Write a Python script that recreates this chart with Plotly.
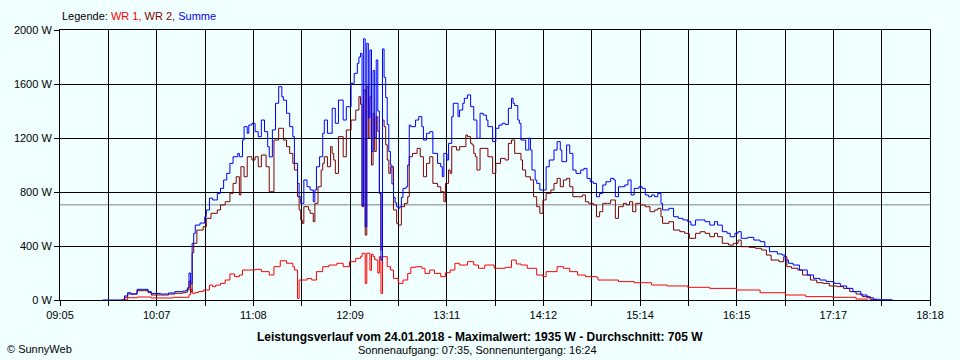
import plotly.graph_objects as go

# ---------------- data ----------------
x_tick_labels = ["09:05", "10:07", "11:08", "12:09", "13:11", "14:12",
                 "15:14", "16:15", "17:17", "18:18"]
y_tick_values = [0, 400, 800, 1200, 1600, 2000]
average_w = 705
max_w = 1935

sum_time = ["09:32","09:44","09:46","09:48","09:50","09:52","09:54","09:59","10:01","10:03",
            "10:09","10:14","10:18","10:23","10:25","10:26","10:27","10:28","10:29","10:30",
            "10:31","10:34","10:37","10:38","10:40","10:42","10:45","10:47","10:49","10:51",
            "10:53","10:55","10:58","10:59","11:01","11:02","11:04","11:05","11:07","11:09",
            "11:11","11:13","11:15","11:17","11:18","11:20","11:22","11:24","11:26","11:27",
            "11:29","11:31","11:33","11:34","11:36","11:37","11:38","11:40","11:42","11:44",
            "11:46","11:47","11:48","11:50","11:52","11:53","11:55","11:58","12:00","12:02",
            "12:05","12:07","12:10","12:12","12:14","12:15","12:16","12:17","12:18","12:19",
            "12:20","12:21","12:22","12:23","12:24","12:25","12:26","12:27","12:28","12:29",
            "12:30","12:31","12:32","12:33","12:34","12:35","12:36","12:37","12:38","12:39",
            "12:40","12:41","12:42","12:43","12:45","12:46","12:47","12:48","12:51","12:53",
            "12:55","12:56","12:58","13:00","13:02","13:05","13:07","13:08","13:09","13:11",
            "13:12","13:14","13:15","13:18","13:19","13:21","13:22","13:24","13:26","13:28",
            "13:30","13:32","13:34","13:36","13:37","13:40","13:42","13:44","13:46","13:48",
            "13:50","13:52","13:53","13:54","13:56","13:57","13:58","14:01","14:03","14:04",
            "14:05","14:07","14:08","14:10","14:12","14:14","14:16","14:19","14:21","14:23",
            "14:24","14:27","14:29","14:31","14:33","14:36","14:38","14:40","14:42","14:44",
            "14:46","14:48","14:50","14:52","14:55","14:57","14:58","15:00","15:02","15:04",
            "15:06","15:08","15:10","15:13","15:15","15:17","15:19","15:21","15:23","15:25",
            "15:27","15:28","15:32","15:35","15:38","15:41","15:44","15:46","15:49","15:52",
            "15:55","15:58","16:01","16:03","16:06","16:09","16:11","16:14","16:16","16:18",
            "16:22","16:26","16:30","16:33","16:36","16:41","16:44","16:46","16:48","16:51",
            "16:55","17:00","17:04","17:08","17:12","17:17","17:21","17:25","17:29","17:34",
            "17:38","17:42","17:46","17:54"]
sum_w = [0,0,30,54,44,45,79,79,62,48,
         44,52,62,66,72,90,200,120,420,494,
         555,570,617,667,755,741,790,827,889,938,
         1012,1061,1086,1061,1185,1284,1235,1296,1309,1247,
         1210,1333,1247,1136,1060,1260,1457,1580,1506,1480,
         1383,1284,1210,1012,864,765,716,889,839,815,
         728,815,987,1061,1235,1333,1235,1420,1309,1481,
         1333,1432,1605,1679,1753,1800,1827,700,1935,543,
         1901,1350,1852,1100,1700,1200,1778,1400,790,296,
         1860,1650,1500,1300,1100,1000,860,760,720,690,
         680,691,760,827,839,1000,1296,1284,1333,1358,
         1284,1185,1235,1247,1086,1012,987,913,1086,1037,
         1160,1358,1457,1358,1407,1457,1494,1519,1432,1333,
         1198,1383,1370,1333,1284,1173,1272,1296,1309,1300,
         1420,1494,1457,1440,1333,1309,1185,1111,1198,1111,
         963,889,864,815,815,987,1037,1111,1173,1111,
         1025,1148,1086,963,938,963,975,901,876,864,
         765,790,852,876,901,889,765,839,839,852,
         889,778,827,839,827,778,765,778,765,790,
         716,667,679,617,605,593,580,555,593,593,
         580,555,580,555,506,494,469,494,506,457,
         464,444,432,395,358,341,333,296,272,259,
         222,185,160,148,136,123,104,86,62,37,
         17,5,2,0]

wr2_time = ["09:44","09:46","09:48","09:50","09:53","09:54","09:59","10:01","10:03","10:09",
            "10:14","10:18","10:23","10:25","10:26","10:27","10:28","10:29","10:30","10:32",
            "10:36","10:38","10:41","10:45","10:47","10:50","10:53","10:55","10:57","10:59",
            "11:00","11:02","11:04","11:07","11:09","11:11","11:13","11:16","11:18","11:21",
            "11:24","11:27","11:29","11:31","11:33","11:34","11:36","11:37","11:38","11:39",
            "11:40","11:43","11:44","11:46","11:47","11:49","11:51","11:52","11:53","11:55",
            "11:57","11:58","11:59","12:00","12:02","12:05","12:07","12:10","12:13","12:15",
            "12:16","12:17","12:18","12:19","12:20","12:21","12:22","12:23","12:24","12:25",
            "12:26","12:27","12:28","12:29","12:30","12:31","12:32","12:33","12:34","12:35",
            "12:37","12:39","12:40","12:42","12:44","12:46","12:47","12:49","12:52","12:54",
            "12:56","12:58","13:00","13:02","13:05","13:07","13:09","13:10","13:12","13:13",
            "13:14","13:17","13:19","13:21","13:23","13:24","13:26","13:27","13:28","13:29",
            "13:30","13:32","13:35","13:37","13:40","13:42","13:45","13:48","13:50","13:52",
            "13:54","13:56","13:58","13:59","14:01","14:04","14:06","14:08","14:10","14:12",
            "14:14","14:17","14:19","14:21","14:23","14:25","14:27","14:29","14:31","14:33",
            "14:37","14:39","14:41","14:44","14:46","14:48","14:50","14:53","14:55","14:57",
            "14:58","15:00","15:03","15:05","15:07","15:09","15:11","15:14","15:17","15:20",
            "15:23","15:25","15:27","15:28","15:32","15:35","15:39","15:42","15:45","15:49",
            "15:52","15:55","15:58","16:01","16:03","16:06","16:10","16:13","16:16","16:18",
            "16:23","16:27","16:31","16:34","16:37","16:42","16:45","16:47","16:50","16:54",
            "16:57","17:02","17:06","17:10","17:14","17:19","17:23","17:27","17:31","17:35",
            "17:40","17:44"]
wr2_w = [0,20,45,44,45,69,69,55,37,37,
         44,50,54,58,75,140,60,350,420,518,
         543,605,642,667,704,728,790,864,913,778,
         987,913,1061,1037,1061,987,1074,987,802,1185,
         1272,1185,1136,1086,1012,963,765,667,593,568,
         691,667,642,580,716,839,963,1012,1061,987,
         1136,1086,1037,938,1210,1061,1259,1333,1407,1506,
         1450,691,1556,481,1580,1200,1506,1000,1383,1100,
         1358,1250,790,370,1333,1284,1150,1037,938,987,
         667,568,555,691,716,765,1061,1086,1123,1061,
         913,1012,1061,864,839,802,728,864,963,938,
         1136,1111,1136,1136,1222,1210,1160,1148,1086,1061,
         963,1123,1123,1061,938,1012,1049,1037,1160,1185,
         1086,1086,1037,963,913,889,765,691,642,741,
         790,815,864,901,839,889,901,839,765,765,
         778,728,716,704,617,654,716,716,741,741,
         605,691,716,704,728,654,716,704,691,654,
         667,679,617,568,580,518,506,494,457,494,
         506,494,469,494,469,420,407,420,444,395,
         390,383,370,333,296,284,321,247,235,222,
         185,148,128,123,104,99,86,62,44,25,
         5,0]

wr1_time = ["09:44","09:46","09:48","09:54","10:01","10:03","10:17","10:26","10:27","10:28",
            "10:29","10:31","10:33","10:36","10:40","10:42","10:44","10:47","10:50","10:53",
            "10:56","10:59","11:01","11:05","11:09","11:13","11:18","11:21","11:25","11:29",
            "11:31","11:33","11:34","11:36","11:37","11:42","11:45","11:48","11:52","11:56",
            "12:01","12:05","12:09","12:13","12:16","12:17","12:19","12:20","12:22","12:23",
            "12:24","12:25","12:26","12:27","12:28","12:29","12:30","12:33","12:35","12:37",
            "12:40","12:43","12:46","12:48","12:51","12:55","12:57","13:00","13:03","13:07",
            "13:10","13:13","13:16","13:19","13:24","13:28","13:31","13:35","13:41","13:48",
            "13:52","13:55","13:58","14:02","14:08","14:12","14:14","14:21","14:25","14:29",
            "14:34","14:39","14:46","14:47","14:56","15:00","15:10","15:21","15:31","15:44",
            "15:58","16:15","16:30","16:46","16:59","17:16","17:31","17:38"]
wr1_w = [0,5,17,22,22,15,20,20,39,79,
         50,55,62,74,111,99,110,123,148,193,
         173,185,222,222,227,210,185,247,291,272,
         272,247,222,12,148,160,148,210,247,259,
         272,247,284,309,321,346,123,346,220,340,
         321,300,296,200,321,49,321,247,222,160,
         123,148,197,242,247,235,197,222,197,173,
         202,222,272,259,284,259,235,259,235,242,
         296,267,259,235,185,173,210,247,235,210,
         185,173,168,148,148,136,128,111,104,94,
         86,74,54,37,25,20,7,0]


def to_min(t):
    h, m = t.split(":")
    return int(h) * 60 + int(m)


x_start, x_end = to_min("09:05"), to_min("18:18")
n_minor = 2 * (len(x_tick_labels) - 1)
tick_vals = [x_start + i * (x_end - x_start) / n_minor for i in range(n_minor + 1)]
tick_text = [x_tick_labels[i // 2] if i % 2 == 0 else "" for i in range(n_minor + 1)]

BG = "#F0FFFF"
FONT = "Liberation Sans, Arial, sans-serif"

fig = go.Figure()
fig.add_trace(go.Scatter(x=[to_min(t) for t in wr1_time], y=wr1_w, mode="lines",
                         line=dict(color="#FF0000", width=1, shape="hv"), name="WR 1"))
fig.add_trace(go.Scatter(x=[to_min(t) for t in wr2_time], y=wr2_w, mode="lines",
                         line=dict(color="#800000", width=1, shape="hv"), name="WR 2"))
fig.add_trace(go.Scatter(x=[to_min(t) for t in sum_time], y=sum_w, mode="lines",
                         line=dict(color="#0000FF", width=1, shape="hv"), name="Summe"))

fig.add_shape(type="line", xref="paper", x0=0, x1=1, yref="y", y0=average_w, y1=average_w,
              line=dict(color="#808080", width=1), layer="below")

axis_common = dict(showgrid=True, gridcolor="black", gridwidth=1, showline=True,
                   linecolor="black", linewidth=1, mirror=True, ticks="outside",
                   ticklen=5, tickcolor="black", zeroline=False,
                   tickfont=dict(family=FONT, size=11, color="black"))

fig.update_xaxes(range=[x_start, x_end], tickmode="array", tickvals=tick_vals,
                 ticktext=tick_text, **axis_common)
fig.update_yaxes(range=[0, 2000], tickmode="array", tickvals=y_tick_values,
                 ticktext=[f"{v} W" for v in y_tick_values], **axis_common)


def px_x(px):
    return (px - 60) / 870


def px_y(py):
    return (300 - py) / 270


annotations = [
    dict(text="Legende: <span style='color:#FF0000'>WR 1,</span> "
              "<span style='color:#800000'>WR 2,</span> "
              "<span style='color:#0000FF'>Summe</span>",
         x=px_x(60), y=px_y(16), xanchor="left", yanchor="middle",
         font=dict(family=FONT, size=11, color="black")),
    dict(text=f"<b>Leistungsverlauf vom 24.01.2018 - Maximalwert: {max_w} W - "
              f"Durchschnitt: {average_w} W</b>",
         x=px_x(480), y=px_y(337), xanchor="center", yanchor="middle",
         font=dict(family=FONT, size=12, color="black")),
    dict(text="Sonnenaufgang: 07:35, Sonnenuntergang: 16:24",
         x=px_x(477), y=px_y(350), xanchor="center", yanchor="middle",
         font=dict(family=FONT, size=11, color="black")),
    dict(text="© SunnyWeb",
         x=px_x(5), y=px_y(349), xanchor="left", yanchor="middle",
         font=dict(family=FONT, size=11, color="black")),
]
for a in annotations:
    a.update(xref="paper", yref="paper", showarrow=False)

fig.update_layout(width=960, height=360, margin=dict(l=60, r=30, t=30, b=60),
                  paper_bgcolor=BG, plot_bgcolor=BG, showlegend=False,
                  annotations=annotations, font=dict(family=FONT, size=11, color="black"))

fig.write_html("out.html",
               config={"displayModeBar": False},
               post_script="document.body.style.margin='0';"
                           "document.body.style.background='" + BG + "';")
